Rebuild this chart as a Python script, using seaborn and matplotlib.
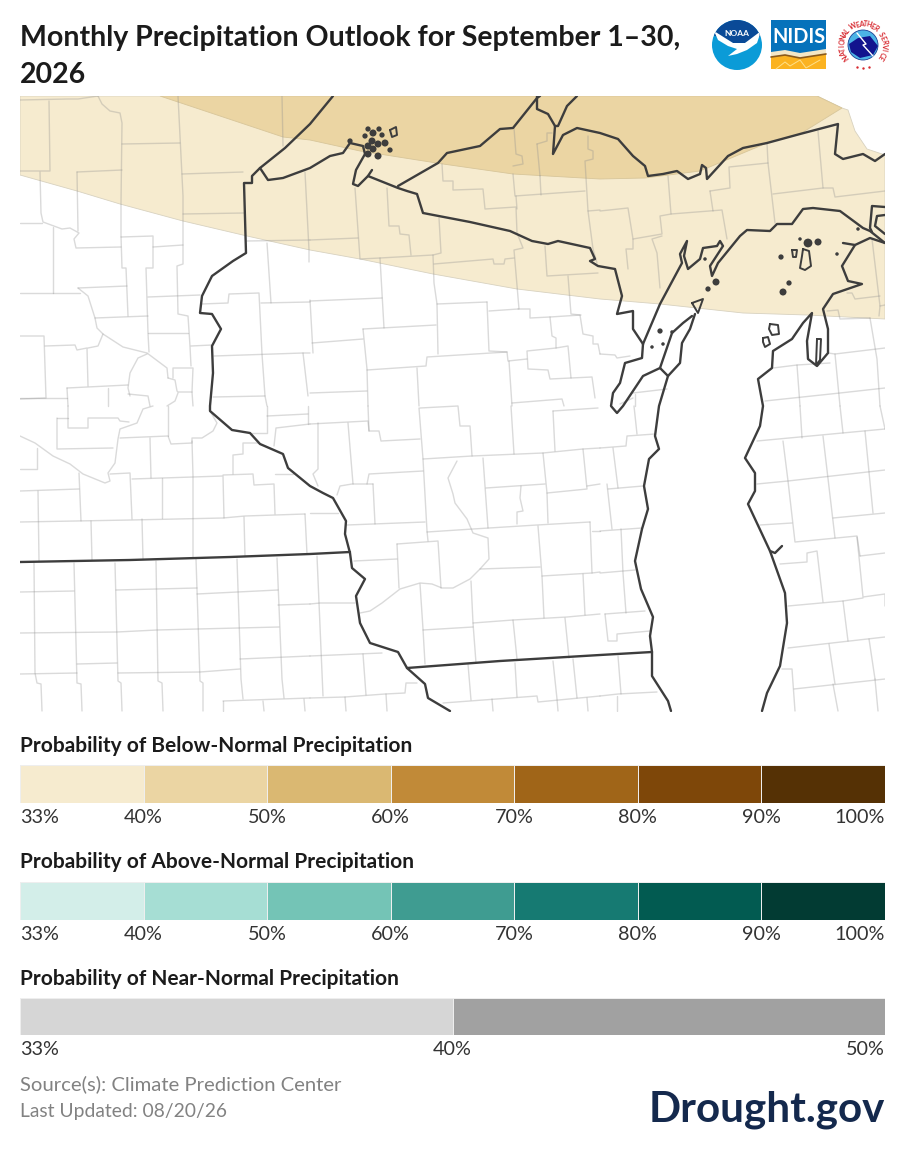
import numpy as np
import seaborn as sns
from matplotlib import pyplot as plt
from matplotlib.colors import ListedColormap
from matplotlib.patches import Circle, Rectangle, Polygon

sns.set_theme(style="white")
plt.rcParams["font.family"] = ["Lato", "DejaVu Sans"]

W, H = 905, 1163
TITLE = "Monthly Precipitation Outlook for September 1\u201330,\n2026"
NAVY = "#14294d"

below_colors = ["#F6EBCF", "#EBD5A3", "#DAB872", "#C18A38", "#A06518", "#7E4709", "#553105"]
above_colors = ["#D3EEE9", "#A6DED4", "#74C4B6", "#3F9C91", "#167A72", "#025B51", "#023B33"]
near_colors = ["#D6D6D6", "#A1A1A1"]
below_labels = ["33%", "40%", "50%", "60%", "70%", "80%", "90%", "100%"]
above_labels = ["33%", "40%", "50%", "60%", "70%", "80%", "90%", "100%"]
near_labels = ["33%", "40%", "50%"]

# outlook areas, map coordinates
band_33 = [(20, 96), (817, 96), (842, 108), (848, 110), (855, 131), (867, 149), (885, 155), (885, 319),
           (807, 315), (743, 313), (660, 304), (600, 299), (517, 289), (433, 274), (360, 259), (310, 250),
           (247, 236), (183, 221), (120, 204), (77, 191), (20, 175)]
band_40 = [(160, 96), (817, 96), (842, 108), (800, 134), (767, 143), (700, 171), (645, 178), (600, 179),
           (513, 174), (443, 164), (360, 151), (310, 140), (283, 137), (220, 116)]

# borders and shoreline
shore_lines = [
    [(333, 96), (310, 124), (285, 148), (260, 168), (252, 176), (252, 183), (244, 183), (246, 253), (233, 261),
     (212, 276), (202, 296), (200, 313), (212, 314), (221, 329), (212, 346), (213, 373), (210, 406), (210, 411),
     (232, 430), (250, 433), (260, 444), (283, 454), (288, 468), (310, 486), (323, 493), (333, 498), (346, 521),
     (345, 534), (350, 553), (352, 568), (365, 579), (356, 596), (360, 623), (370, 643), (398, 652), (407, 668),
     (425, 684), (428, 698), (450, 711)],
    [(20, 562), (130, 560), (230, 557), (310, 554), (350, 552)],
    [(407, 668), (500, 661), (600, 655), (652, 652)],
    [(260, 168), (268, 180), (283, 178), (310, 168), (330, 156), (343, 153), (350, 143), (363, 146), (365, 154),
     (356, 170), (353, 184), (358, 186), (368, 176), (372, 170)],
    [(368, 176), (398, 188), (407, 191), (417, 194), (423, 213), (470, 222), (510, 231), (532, 241), (548, 244),
     (558, 241), (590, 248), (595, 259), (590, 261), (598, 266), (615, 269), (622, 296), (617, 314), (633, 311),
     (633, 329), (643, 344)],
    [(398, 186), (438, 163), (447, 153), (480, 146), (500, 129), (513, 128), (537, 98), (540, 96)],
    [(537, 96), (537, 109), (548, 114), (555, 126), (558, 126), (567, 106), (577, 96)],
    [(555, 126), (553, 154), (563, 135), (577, 128), (600, 133), (618, 139), (633, 156), (645, 166), (648, 176),
     (663, 174), (677, 171), (688, 179), (700, 174), (702, 165), (706, 168), (707, 179), (728, 156), (743, 148),
     (767, 143), (800, 134), (838, 124), (835, 154), (843, 159), (863, 154), (875, 161), (885, 154)],
    [(643, 344), (660, 304), (682, 263), (680, 254), (687, 241), (684, 256), (688, 269), (700, 259), (703, 248),
     (717, 246), (720, 241), (723, 246), (710, 266), (712, 276), (718, 263), (740, 236), (747, 230), (770, 231),
     (777, 224), (792, 224), (803, 209), (813, 208), (840, 211), (863, 228), (870, 231), (885, 243)],
    [(843, 243), (855, 245), (870, 238), (885, 243)],
    [(855, 245), (842, 266), (848, 281), (862, 284), (833, 294), (823, 309), (828, 329), (828, 353), (817, 366),
     (808, 359), (807, 341), (812, 313), (803, 323), (792, 339), (773, 351), (772, 368), (758, 379), (763, 406),
     (760, 426), (745, 458), (755, 473), (755, 491), (748, 504), (770, 551), (785, 593), (787, 623), (780, 666),
     (767, 693), (762, 711)],
    [(770, 551), (775, 553), (782, 546)],
    [(643, 344), (642, 358), (625, 363), (620, 383), (613, 393), (611, 406), (617, 413), (623, 406), (643, 376),
     (660, 368), (672, 333), (683, 323), (692, 316)],
    [(660, 368), (668, 376), (680, 363), (682, 343), (690, 329), (695, 314)],
    [(668, 376), (659, 406), (655, 436), (659, 449), (649, 459), (644, 486), (648, 509), (642, 529), (635, 561),
     (641, 589), (653, 617), (650, 636), (652, 652), (652, 676), (668, 701), (671, 711)],
    [(885, 207), (872, 206), (870, 228), (872, 232)],
    [(885, 215), (877, 216), (875, 226), (885, 234)],
]
island_loops = [
    [(390, 130), (396, 127), (397, 135), (392, 137), (390, 130)],
    [(692, 303), (703, 299), (698, 313), (692, 303)],
    [(803, 249), (809, 251), (811, 266), (805, 270), (800, 268), (802, 256), (803, 249)],
    [(770, 324), (778, 325), (779, 334), (772, 335), (769, 329), (770, 324)],
    [(763, 338), (768, 337), (770, 344), (765, 347), (763, 342), (763, 338)],
    [(817, 339), (821, 339), (820, 360), (816, 365), (817, 339)],
    [(792, 250), (797, 250), (796, 257), (793, 257), (792, 250)],
]
island_x = [368, 373, 379, 382, 365, 372, 378, 385, 368, 373, 390, 368, 378, 350,
            800, 808, 818, 781, 837, 789, 783, 708, 716, 705, 858, 660, 652, 663, 672]
island_y = [129, 133, 129, 135, 136, 141, 144, 143, 146, 149, 150, 154, 156, 141,
            239, 243, 242, 257, 254, 283, 292, 289, 282, 259, 229, 331, 347, 344, 332]
island_size = [3, 4, 3, 3, 3, 4, 4, 4, 4, 4, 3, 4, 4, 3,
               2, 5, 4, 3, 2, 3, 4, 3, 4, 2, 2, 3, 2, 2, 2]

county_lines = [
    [(20, 100), (68, 99), (78, 99), (98, 96)],
    [(49, 101), (50, 171), (20, 171)],
    [(40, 172), (41, 213), (43, 222), (62, 229), (70, 228), (79, 233), (74, 239), (76, 248), (121, 247)],
    [(98, 96), (102, 104), (110, 111), (120, 113), (122, 123), (121, 203), (121, 236), (122, 268), (126, 268), (128, 316)],
    [(122, 144), (180, 143)], [(77, 172), (122, 170)], [(77, 172), (78, 231)],
    [(178, 96), (183, 196), (183, 264), (177, 266), (178, 314), (188, 316), (190, 346), (191, 366)],
    [(182, 174), (243, 172)], [(183, 214), (244, 213)],
    [(121, 237), (153, 236), (153, 268), (146, 268), (148, 333), (149, 352)],
    [(153, 247), (183, 245)], [(148, 297), (200, 295)], [(20, 293), (80, 293)], [(53, 227), (53, 293)],
    [(20, 223), (42, 223)], [(78, 288), (127, 286)],
    [(78, 288), (88, 296), (95, 318), (97, 328), (103, 334), (123, 347), (147, 353), (167, 368), (168, 378)],
    [(95, 318), (148, 316)], [(148, 333), (188, 333)],
    [(20, 336), (44, 336), (46, 398), (20, 399)],
    [(45, 346), (75, 345), (77, 350), (87, 348), (88, 386)],
    [(88, 348), (98, 346), (103, 334)], [(191, 346), (212, 345)],
    [(147, 354), (138, 358), (130, 373), (128, 388), (130, 396)],
    [(168, 378), (175, 380), (177, 391), (178, 392), (192, 392), (193, 368), (173, 368), (173, 378)],
    [(67, 388), (128, 385)], [(67, 388), (68, 406)], [(108, 388), (108, 406)],
    [(128, 394), (148, 396), (150, 406)], [(178, 393), (175, 401), (167, 406)], [(20, 398), (67, 398)],
    [(192, 392), (193, 406)], [(214, 356), (303, 353), (310, 353)],
    [(201, 304), (228, 303), (229, 294), (259, 293), (262, 354), (265, 396), (267, 406)],
    [(261, 303), (310, 302)], [(267, 243), (271, 303)], [(247, 241), (310, 240)],
    [(305, 172), (309, 250), (309, 262)], [(303, 353), (308, 396)], [(213, 397), (265, 396)],
    [(282, 96), (283, 146)],
    [(355, 188), (360, 259), (380, 258), (433, 255), (441, 253), (439, 218)],
    [(387, 188), (389, 226), (399, 226), (400, 234), (409, 235), (411, 255)],
    [(310, 240), (358, 238)], [(380, 258), (384, 328)],
    [(433, 255), (434, 283), (437, 304), (438, 354)],
    [(434, 264), (493, 259), (494, 264), (504, 264), (505, 259), (514, 258)],
    [(442, 164), (443, 181), (453, 181), (453, 190), (483, 189), (485, 209), (516, 207), (517, 233), (523, 248), (514, 250), (519, 309)],
    [(513, 174), (515, 196), (585, 191)],
    [(513, 166), (523, 164), (522, 156), (516, 154), (514, 128)],
    [(516, 196), (517, 209)], [(540, 176), (541, 195)],
    [(537, 144), (540, 176)], [(537, 144), (547, 141), (547, 133), (552, 133)],
    [(588, 136), (588, 149), (593, 151), (593, 159), (585, 161), (588, 211), (593, 249), (597, 263)],
    [(588, 211), (600, 210)], [(545, 246), (547, 276), (598, 273)],
    [(568, 276), (571, 314), (580, 315), (583, 334), (593, 336), (593, 344), (598, 344), (600, 354)],
    [(518, 309), (530, 309), (530, 318), (550, 317), (552, 336), (556, 338), (556, 348), (527, 351), (528, 369), (548, 370), (550, 379), (592, 377), (595, 398)],
    [(550, 317), (581, 315)], [(556, 348), (568, 346), (571, 378)],
    [(487, 302), (437, 304)], [(487, 302), (489, 351), (507, 352), (508, 361), (527, 359)],
    [(509, 361), (512, 406)], [(489, 311), (518, 309)],
    [(310, 301), (382, 298)], [(310, 300), (313, 353)], [(312, 343), (363, 339)],
    [(363, 329), (436, 325)], [(363, 329), (367, 369), (368, 406)],
    [(367, 370), (426, 366), (427, 357), (507, 352)], [(417, 368), (419, 406)], [(310, 393), (367, 391)],
    [(512, 403), (562, 399), (564, 406)],
    [(668, 176), (671, 214), (660, 216), (662, 234), (633, 239), (628, 208), (600, 211)],
    [(671, 214), (722, 210), (727, 239)], [(662, 236), (652, 239), (657, 253), (660, 288)],
    [(633, 239), (633, 249), (626, 249), (628, 269)], [(710, 191), (713, 211)],
    [(710, 191), (730, 188), (729, 167), (768, 163)], [(767, 143), (768, 163), (775, 223)],
    [(818, 131), (823, 188), (773, 194)], [(823, 188), (833, 188), (835, 197), (885, 191)],
    [(872, 239), (880, 306), (879, 316)], [(880, 296), (855, 299), (852, 293), (847, 293)],
    [(827, 311), (838, 310), (840, 319), (870, 318)], [(880, 306), (885, 305)],
    [(870, 318), (877, 359), (880, 406)], [(828, 353), (835, 354), (885, 348)], [(835, 354), (840, 406)],
    [(773, 368), (797, 365), (830, 363)], [(797, 365), (800, 406)],
    [(765, 401), (840, 393), (885, 388)], [(600, 354), (615, 355), (617, 358), (630, 356)],
    [(620, 404), (633, 398)], [(633, 393), (667, 389)], [(635, 394), (635, 406)],
    [(20, 436), (35, 443), (53, 456), (70, 464), (83, 474), (105, 483), (110, 481), (108, 473), (115, 463), (118, 439), (120, 429), (137, 423), (143, 409), (153, 406)],
    [(57, 418), (57, 449), (113, 448)], [(57, 418), (68, 418)],
    [(68, 406), (68, 428), (88, 428), (88, 418), (118, 418), (120, 421), (129, 422)],
    [(120, 438), (168, 436), (171, 444), (192, 443), (192, 438), (202, 438), (213, 431), (217, 423), (210, 411)],
    [(168, 406), (168, 436)], [(150, 438), (151, 478)], [(192, 441), (193, 476), (193, 558)],
    [(79, 473), (81, 521)], [(110, 474), (130, 473), (132, 519)],
    [(132, 479), (223, 476), (224, 518)], [(162, 478), (162, 518)],
    [(223, 475), (253, 474), (254, 485), (274, 484), (275, 514)],
    [(233, 474), (233, 455), (243, 454), (243, 443), (258, 443)], [(275, 474), (293, 474)],
    [(274, 446), (276, 428), (310, 424)], [(267, 406), (267, 433), (252, 433)],
    [(267, 416), (308, 414)], [(308, 406), (308, 424)],
    [(20, 491), (79, 489)], [(38, 491), (39, 561)],
    [(20, 522), (131, 520), (223, 518), (245, 516), (305, 514)], [(20, 469), (37, 469), (37, 448)],
    [(91, 521), (92, 560)], [(142, 519), (143, 559)], [(244, 517), (245, 556)], [(305, 514), (307, 554)],
    [(34, 563), (35, 673), (37, 683), (41, 684), (42, 711)], [(74, 563), (77, 683), (81, 684), (82, 711)],
    [(115, 563), (118, 681), (121, 683), (122, 711)], [(156, 561), (158, 681), (162, 683), (163, 711)],
    [(196, 559), (200, 681), (203, 683), (203, 711)], [(237, 559), (241, 679), (243, 699)],
    [(277, 558), (282, 679), (284, 698)],
    [(20, 592), (74, 591)], [(116, 590), (197, 588)], [(197, 594), (278, 590)],
    [(20, 633), (117, 632), (157, 630), (279, 627)], [(278, 605), (310, 604)],
    [(77, 664), (117, 663)], [(20, 674), (77, 673)], [(118, 673), (200, 672), (240, 669)],
    [(240, 659), (310, 656)], [(223, 701), (310, 698)], [(223, 701), (223, 711)],
    [(263, 701), (264, 711)], [(304, 699), (305, 711)],
    [(310, 424), (368, 421), (369, 431), (379, 431), (381, 441), (420, 439)],
    [(318, 423), (318, 469), (313, 474), (318, 486)], [(348, 423), (353, 484)], [(368, 406), (369, 431)],
    [(419, 408), (423, 459), (427, 531), (428, 541)],
    [(420, 408), (458, 406), (460, 426), (470, 426), (472, 456), (423, 459)], [(511, 406), (514, 454)],
    [(472, 456), (543, 453), (583, 449), (600, 448)], [(553, 411), (555, 451)], [(553, 411), (598, 408)],
    [(583, 449), (587, 489), (547, 493), (543, 453)], [(587, 486), (600, 484)], [(547, 493), (548, 523)],
    [(483, 458), (488, 528)], [(486, 488), (545, 484)],
    [(521, 486), (520, 498), (523, 511), (517, 512), (517, 524)],
    [(457, 461), (448, 478), (453, 494), (455, 503), (467, 519), (473, 533), (488, 538), (489, 559), (480, 569), (470, 579), (453, 588), (442, 588), (432, 584), (420, 583), (400, 589), (382, 603), (370, 611), (360, 613)],
    [(347, 525), (425, 522)], [(427, 532), (473, 529), (537, 525), (590, 522)],
    [(590, 522), (592, 573), (542, 576), (538, 526)], [(592, 531), (600, 531)],
    [(542, 576), (544, 618)], [(583, 574), (585, 615)], [(592, 573), (600, 572)],
    [(397, 544), (438, 541), (441, 588)], [(397, 544), (399, 588)], [(354, 561), (397, 559)],
    [(480, 569), (540, 567)], [(471, 581), (473, 623), (476, 663)], [(420, 584), (423, 629), (425, 664)],
    [(423, 630), (473, 627)], [(473, 623), (513, 620), (567, 617), (600, 614)],
    [(513, 620), (517, 659)], [(565, 618), (569, 658)],
    [(367, 484), (369, 474), (423, 471)], [(373, 484), (375, 524)],
    [(337, 495), (340, 486), (352, 484), (373, 484)], [(310, 513), (338, 513)],
    [(317, 556), (323, 696)], [(310, 604), (320, 603), (355, 603)], [(310, 656), (382, 653)],
    [(363, 654), (366, 695)],
    [(310, 698), (345, 697), (385, 694), (405, 693), (406, 683), (417, 683)],
    [(345, 697), (346, 711)], [(386, 694), (387, 711)], [(468, 664), (471, 700)], [(515, 663), (517, 697)],
    [(553, 661), (557, 699), (558, 711)], [(573, 659), (577, 698)],
    [(443, 703), (537, 696), (538, 702), (600, 696)], [(492, 699), (493, 711)], [(587, 698), (588, 711)],
    [(600, 448), (626, 446), (627, 436), (655, 434)], [(634, 406), (637, 434)],
    [(613, 448), (618, 488)], [(608, 489), (643, 486)], [(607, 484), (612, 529)],
    [(600, 531), (642, 528)], [(621, 529), (623, 573), (626, 613)], [(600, 573), (635, 570)],
    [(605, 614), (645, 611)], [(605, 614), (608, 641), (617, 641), (617, 634), (650, 631)],
    [(618, 656), (621, 694)], [(600, 696), (618, 694), (657, 692)], [(617, 696), (617, 711)],
    [(757, 441), (885, 429)], [(800, 406), (802, 438)], [(840, 406), (843, 433)], [(880, 406), (885, 429)],
    [(783, 441), (788, 481), (795, 542), (857, 536), (860, 556)],
    [(757, 484), (788, 481), (885, 470)], [(823, 436), (835, 538)], [(865, 431), (873, 513)],
    [(833, 518), (885, 513)], [(760, 525), (792, 523)],
    [(780, 564), (807, 562), (807, 553), (817, 551), (823, 602)],
    [(857, 537), (863, 597), (885, 594), (885, 606)], [(860, 556), (885, 553)],
    [(788, 606), (843, 601), (863, 598)], [(843, 601), (848, 641)], [(788, 648), (885, 637)],
    [(829, 644), (835, 684)], [(869, 639), (875, 679)], [(794, 689), (885, 679)],
    [(782, 669), (792, 669), (795, 711)], [(833, 684), (838, 711)], [(875, 679), (878, 711)],
]


def px_axes(fig, x0, y0, x1, y1):
    # axes rect given in image pixels, y from the top
    return fig.add_axes([x0 / W, 1 - y1 / H, (x1 - x0) / W, (y1 - y0) / H])


def legend_bar(fig, colors, labels, top, bottom):
    ax = px_axes(fig, 20, top, 885, bottom)
    cells = np.arange(len(colors)).reshape(1, -1)
    sns.heatmap(cells, cmap=ListedColormap(colors), cbar=False, linewidths=0.6, linecolor="#eeeeee",
                xticklabels=False, yticklabels=False, ax=ax)
    ax.set_xticks(np.arange(len(labels)))
    ax.set_xticklabels(labels, fontsize=14.2, color="#333333")
    ax.tick_params(axis="x", length=0, pad=4)
    ticks = ax.get_xticklabels()
    ticks[0].set_ha("left")
    ticks[-1].set_ha("right")
    return ax


fig = plt.figure(figsize=(W / 100, H / 100), dpi=100, facecolor="white")

ax = px_axes(fig, 20, 96, 885, 712)
ax.set_xlim(20, 885)
ax.set_ylim(712, 96)
ax.axis("off")
ax.fill(*zip(*band_33), facecolor=below_colors[0], edgecolor="#d8d2c0", lw=0.6, zorder=1)
ax.fill(*zip(*band_40), facecolor=below_colors[1], edgecolor="#d8c69a", lw=0.6, zorder=2)
for line in county_lines:
    ax.plot(*zip(*line), color="#8f8f8f", alpha=0.33, lw=1.0, solid_joinstyle="round", zorder=3)
for line in shore_lines:
    ax.plot(*zip(*line), color="#3d3d3d", lw=1.7, solid_joinstyle="round", solid_capstyle="round", zorder=4)
for line in island_loops:
    ax.plot(*zip(*line), color="#3d3d3d", lw=1.4, zorder=4)
ax.scatter(island_x, island_y, s=[v * v * 1.6 for v in island_size], color="#3d3d3d", linewidths=0, zorder=4)

legend_bar(fig, below_colors, below_labels, 765, 803)
legend_bar(fig, above_colors, above_labels, 882, 920)
legend_bar(fig, near_colors, near_labels, 998, 1035)

fig.text(20 / W, 1 - 56.5 / H, TITLE, fontsize=20.5, fontweight="bold", color="#1b1b1b", linespacing=1.5, va="center", ha="left")
for label, y in [("Below", 746), ("Above", 862), ("Near", 979)]:
    fig.text(20 / W, 1 - y / H, f"Probability of {label}-Normal Precipitation", fontsize=15,
             fontweight="bold", color="#1b1b1b", va="center")
fig.text(20 / W, 1 - 1084 / H, "Source(s): Climate Prediction Center", fontsize=14.55, color="#828282", va="center")
fig.text(20 / W, 1 - 1111 / H, "Last Updated: 08/20/26", fontsize=13.9, color="#828282", va="center")
fig.text(885 / W, 1 - 1110 / H, "Drought.gov", fontsize=30.3, fontweight="bold", color=NAVY, va="center", ha="right")

# logos, drawn in image pixels
logo = px_axes(fig, 700, 10, 900, 80)
logo.set_xlim(700, 900)
logo.set_ylim(80, 10)
logo.axis("off")

noaa = Circle((737, 45), 25, facecolor="#0b9bd7", edgecolor="none")
logo.add_patch(noaa)
top_part = Polygon([(705, 15), (770, 15), (770, 32), (745, 43), (733, 43), (705, 32)], facecolor="#0a4a97", edgecolor="none")
logo.add_patch(top_part)
top_part.set_clip_path(noaa)
swoosh = Polygon([(714, 31), (733, 43), (745, 43), (761, 31), (757, 43), (747, 50), (737, 54), (728, 56),
                  (737, 49), (728, 46), (718, 40)], facecolor="white", edgecolor="none")
logo.add_patch(swoosh)
swoosh.set_clip_path(noaa)
logo.text(737, 33, "NOAA", color="white", fontsize=6, fontweight="bold", ha="center", va="center")

logo.add_patch(Rectangle((771, 20), 55, 49, facecolor="#0672bb", edgecolor="none"))
logo.add_patch(Polygon([(771, 53), (785, 51), (800, 54), (826, 50), (826, 69), (771, 69)], facecolor="#fbb321", edgecolor="none"))
logo.add_patch(Polygon([(771, 52), (785, 50), (800, 53), (826, 49), (826, 54), (800, 58), (785, 55), (771, 57)], facecolor="#f4e7c6", edgecolor="none"))
logo.plot([771, 785, 800, 826], [57, 55, 58, 54], color="#8a5a1c", lw=1.2)
logo.plot([776, 785, 790, 800, 806, 820], [69, 62, 66, 60, 68, 60], color="#ffe08a", lw=0.7)
logo.text(798.5, 37, "NIDIS", color="white", fontsize=14.3, fontweight="bold", ha="center", va="center")

logo.add_patch(Circle((863, 45), 15, facecolor="#4cb4e6", edgecolor="#1c3f94", lw=0.6))
logo.add_patch(Polygon([(849, 44), (858, 38), (870, 36), (878, 46), (873, 55), (860, 58), (851, 52)], facecolor="#12148e", edgecolor="none"))
logo.plot([857, 866, 863, 873], [33, 44, 45, 56], color="white", lw=1)
ring_text = "NATIONAL WEATHER SERVICE"
ring_angles = np.linspace(-125, 125, len(ring_text))
for ch, ang in zip(ring_text, ring_angles):
    t = np.radians(ang)
    logo.text(863 + 21 * np.sin(t), 45 - 21 * np.cos(t), ch, color="#d7282f", fontsize=5, fontweight="bold",
              rotation=-ang, ha="center", va="center")
logo.scatter([857, 863, 869], [67, 68, 67], s=3, color="#d7282f", linewidths=0)

plt.savefig("out.png", dpi=100, facecolor="white")
